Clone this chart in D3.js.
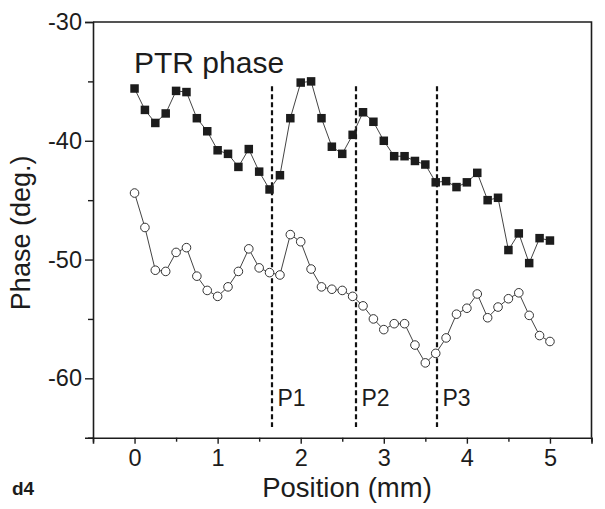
<!DOCTYPE html>
<html>
<head>
<meta charset="utf-8">
<script src="https://cdn.jsdelivr.net/npm/d3@7"></script>
<style>
  body { margin: 0; background: #fff; }
  svg { display: block; font-family: "Liberation Sans", Arial, sans-serif; }
</style>
</head>
<body>
<div id="chart"></div>
<script>
// positions along the scan, 0..5 mm in 0.125 mm steps
let positions = [0, 0.125, 0.25, 0.375, 0.5, 0.625, 0.75, 0.875, 1, 1.125, 1.25, 1.375, 1.5, 1.625, 1.75, 1.875,
    2, 2.125, 2.25, 2.375, 2.5, 2.625, 2.75, 2.875, 3, 3.125, 3.25, 3.375, 3.5, 3.625, 3.75, 3.875,
    4, 4.125, 4.25, 4.375, 4.5, 4.625, 4.75, 4.875, 5];

// filled squares (upper series)
let phaseUpper = [-35.6, -37.4, -38.5, -37.7, -35.8, -35.9, -38.1, -39.2, -40.8, -41.1, -42.2, -40.7, -42.6, -44.1, -42.9, -38.1,
    -35.1, -35.0, -38.1, -40.5, -41.1, -39.5, -37.6, -38.4, -40.0, -41.3, -41.3, -41.7, -42.0, -43.5, -43.4, -43.9,
    -43.5, -42.7, -45.0, -44.8, -49.2, -47.8, -50.3, -48.2, -48.4];

// open circles (lower series)
let phaseLower = [-44.4, -47.3, -50.9, -51.0, -49.4, -49.0, -51.4, -52.6, -53.1, -52.3, -51.0, -49.1, -50.7, -51.1, -51.3, -47.9,
    -48.5, -50.8, -52.3, -52.5, -52.6, -53.1, -53.9, -55.0, -55.9, -55.4, -55.4, -57.2, -58.7, -57.9, -56.6, -54.6,
    -54.1, -52.9, -54.9, -54.0, -53.3, -52.8, -54.7, -56.4, -56.9];

let xTicks = [0, 1, 2, 3, 4, 5];
let yTicks = [-30, -40, -50, -60];
let xMinorTicks = [-0.5, 0.5, 1.5, 2.5, 3.5, 4.5, 5.5];
let yMinorTicks = [-35, -45, -55, -65];

// boundaries between regions
let regionLines = [1.655, 2.665, 3.64];
let regionLabels = ['P1', 'P2', 'P3'];

let w = 605, h = 509;
let margin = {left: 93, top: 22, right: 13.5, bottom: 71.3};

let svg = d3.select('#chart').append('svg').attr('width', w).attr('height', h);

let x = d3.scaleLinear().domain([-0.5, 5.5]).range([margin.left, w - margin.right]);
let y = d3.scaleLinear().domain([-65, -30]).range([h - margin.bottom, margin.top]);

let ink = '#1c1c1c';

// frame (top and right, no ticks)
svg.append('path')
    .attr('d', `M${x(-0.5)},${y(-30)}H${x(5.5)}V${y(-65)}`)
    .attr('fill', 'none').attr('stroke', ink).attr('stroke-width', 1.6);

// axes
svg.append('g').attr('transform', `translate(0,${y(-65)})`)
    .call(d3.axisBottom(x).tickValues(xTicks).tickFormat(d3.format('d')).tickSize(6).tickPadding(6));
svg.append('g').attr('transform', `translate(0,${y(-65)})`)
    .call(d3.axisBottom(x).tickValues(xMinorTicks).tickFormat('').tickSize(4))
    .select('.domain').remove();

svg.append('g').attr('transform', `translate(${x(-0.5)},0)`)
    .call(d3.axisLeft(y).tickValues(yTicks).tickFormat(d => d).tickSize(8).tickPadding(3));
svg.append('g').attr('transform', `translate(${x(-0.5)},0)`)
    .call(d3.axisLeft(y).tickValues(yMinorTicks).tickFormat('').tickSize(5))
    .select('.domain').remove();

svg.selectAll('.domain').attr('stroke', ink).attr('stroke-width', 1.6);
svg.selectAll('.tick line').attr('stroke', ink).attr('stroke-width', 1.4);
svg.selectAll('.tick text').attr('fill', ink).style('font-size', '23.5px')
    .style('font-family', '"Liberation Sans", Arial, sans-serif');

// dashed region boundaries
svg.selectAll('.region-line').data(regionLines).enter().append('line')
    .attr('x1', d => Math.round(x(d))).attr('x2', d => Math.round(x(d)))
    .attr('y1', y(-35.4)).attr('y2', y(-64.1))
    .attr('stroke', '#111').attr('stroke-width', 2.2).attr('stroke-dasharray', '5,3');

svg.selectAll('.region-label').data(regionLines).enter().append('text')
    .attr('x', d => x(d) + 5.5).attr('y', y(-62.3))
    .attr('font-size', 23).attr('fill', ink)
    .text((d, i) => regionLabels[i]);

let line = d3.line().x(d => x(d[0])).y(d => y(d[1]));

let upper = positions.map((p, i) => [p, phaseUpper[i]]);
let lower = positions.map((p, i) => [p, phaseLower[i]]);

svg.append('path').datum(upper).attr('d', line)
    .attr('fill', 'none').attr('stroke', '#444').attr('stroke-width', 1);
svg.append('path').datum(lower).attr('d', line)
    .attr('fill', 'none').attr('stroke', '#444').attr('stroke-width', 1);

let sq = 8.5;
svg.selectAll('.sq').data(upper).enter().append('rect')
    .attr('x', d => x(d[0]) - sq / 2).attr('y', d => y(d[1]) - sq / 2)
    .attr('width', sq).attr('height', sq).attr('fill', ink);

svg.selectAll('.circ').data(lower).enter().append('circle')
    .attr('cx', d => x(d[0])).attr('cy', d => y(d[1])).attr('r', 4.3)
    .attr('fill', '#fff').attr('stroke', '#333').attr('stroke-width', 1);

// labels
svg.append('text').attr('x', 134).attr('y', 72.5)
    .attr('font-size', 30).attr('fill', ink).text('PTR phase');

svg.append('text')
    .attr('transform', `translate(30,${(y(-30) + y(-65)) / 2 + 3}) rotate(-90)`)
    .attr('text-anchor', 'middle').attr('font-size', 27).attr('fill', ink)
    .text('Phase (deg.)');

svg.append('text').attr('x', 347).attr('y', 497)
    .attr('text-anchor', 'middle').attr('font-size', 27.5).attr('fill', ink)
    .text('Position (mm)');

svg.append('text').attr('x', 12).attr('y', 495)
    .attr('font-size', 19).attr('font-weight', 'bold').attr('fill', ink)
    .text('d4');
</script>
</body>
</html>
